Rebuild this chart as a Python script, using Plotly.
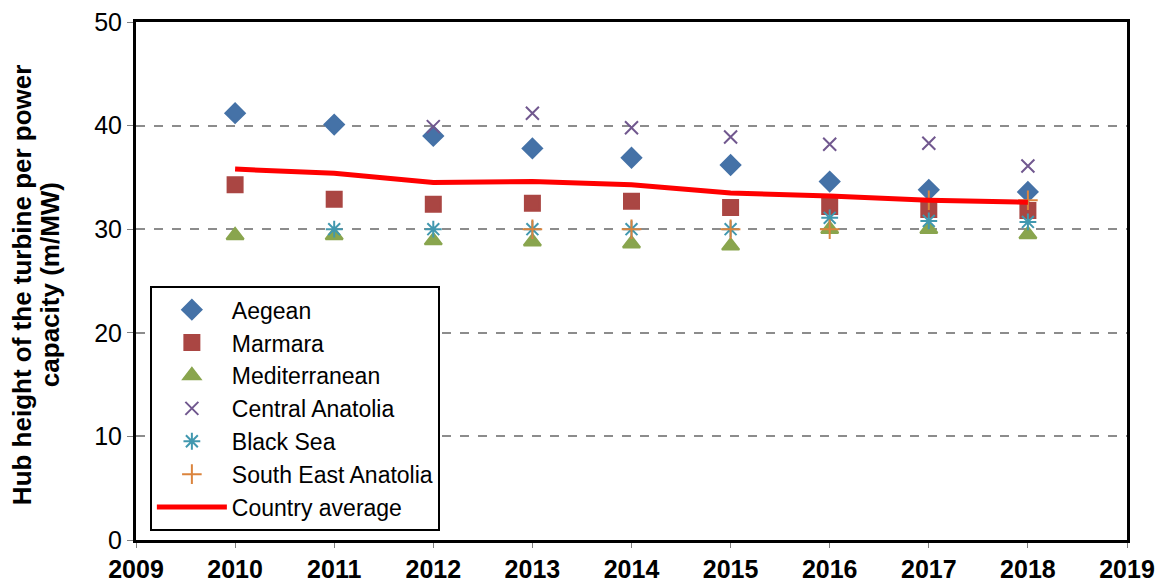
import plotly.graph_objects as go

years = [2010, 2011, 2012, 2013, 2014, 2015, 2016, 2017, 2018]

aegean = [41.2, 40.1, 39.0, 37.8, 36.9, 36.2, 34.6, 33.8, 33.6]
marmara = [34.3, 32.9, 32.4, 32.5, 32.7, 32.1, 32.2, 31.9, 31.8]
mediterranean = [29.4, 29.4, 28.9, 28.8, 28.6, 28.4, 30.0, 30.0, 29.5]
central_anatolia = [None, None, 39.9, 41.2, 39.8, 38.9, 38.2, 38.3, 36.1]
black_sea = [None, 30.0, 30.0, 30.0, 30.0, 30.0, 31.1, 30.8, 30.7]
south_east_anatolia = [None, None, None, 30.0, 30.0, 30.0, 30.0, 32.8, 32.8]
country_average = [35.8, 35.4, 34.5, 34.6, 34.3, 33.5, 33.2, 32.8, 32.6]

x_ticks = list(range(2009, 2020))
y_ticks = [0, 10, 20, 30, 40, 50]

series = [
    ("Aegean", aegean, "diamond", "#4572a7", 15),
    ("Marmara", marmara, "square", "#aa4643", 15),
    ("Mediterranean", mediterranean, "triangle-up", "#89a54e", 15),
    ("Central Anatolia", central_anatolia, "x-thin-open", "#71588f", 13),
    ("Black Sea", black_sea, "asterisk-open", "#4198af", 14),
    ("South East Anatolia", south_east_anatolia, "cross-thin-open", "#db843d", 14),
]

fig = go.Figure()

for name, values, symbol, color, size in series:
    fig.add_trace(
        go.Scatter(
            x=years,
            y=values,
            name=name,
            mode="markers",
            marker=dict(symbol=symbol, color=color, size=size,
                        line=dict(color=color, width=2)),
        )
    )

fig.add_trace(
    go.Scatter(
        x=years,
        y=country_average,
        name="Country average",
        mode="lines",
        line=dict(color="#ff0000", width=5),
    )
)

fig.update_layout(
    width=1165,
    height=584,
    margin=dict(l=136, r=38, t=22, b=44, autoexpand=False),
    paper_bgcolor="white",
    plot_bgcolor="white",
    font=dict(family="Liberation Sans, Arial", size=25, color="black"),
    showlegend=True,
    legend=dict(
        x=0.014,
        y=0.017,
        xanchor="left",
        yanchor="bottom",
        bgcolor="white",
        bordercolor="black",
        borderwidth=2,
        font=dict(size=23),
        tracegroupgap=0,
        itemwidth=70,
        entrywidth=292,
    ),
)

# y title as two rotated lines, the original has tight line spacing
title_lines = ["Hub height of the turbine per power", "capacity (m/MW)"]
for shift, line in zip([-114, -86], title_lines):
    fig.add_annotation(
        text="<b>%s</b>" % line,
        xref="paper",
        yref="paper",
        x=0,
        y=0.492,
        xshift=shift,
        xanchor="center",
        yanchor="middle",
        textangle=-90,
        showarrow=False,
        font=dict(size=26),
    )

fig.update_xaxes(
    range=[2009, 2019],
    tickvals=x_ticks,
    ticktext=["<b>%d</b>" % t for t in x_ticks],
    tickfont=dict(size=25),
    ticks="outside",
    ticklen=5,
    tickcolor="gray",
    showgrid=False,
    showline=True,
    linecolor="black",
    linewidth=3,
    mirror=True,
    zeroline=False,
    automargin=False,
)

fig.update_yaxes(
    range=[0, 50],
    tickvals=y_ticks,
    tickfont=dict(size=25),
    ticks="outside",
    ticklen=6,
    tickcolor="gray",
    showgrid=True,
    gridcolor="#8c8c8c",
    griddash="dash",
    gridwidth=1.5,
    showline=True,
    linecolor="black",
    linewidth=3,
    mirror=True,
    zeroline=False,
    automargin=False,
)

fig.write_html(
    "out.html",
    config={"displayModeBar": False},
    post_script="document.body.style.margin='0';",
)
